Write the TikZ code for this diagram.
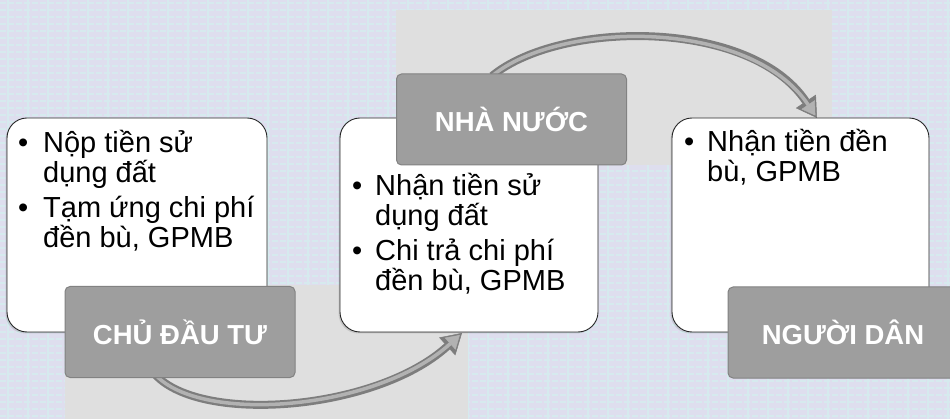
\documentclass[tikz,border=0pt]{standalone}
\usepackage{fontspec}
\setmainfont{Liberation Sans}
\usetikzlibrary{arrows.meta,shadows}
\definecolor{bgpurple}{RGB}{222,222,238}
\definecolor{gridcol}{RGB}{214,234,238}
\definecolor{patchgray}{RGB}{223,223,223}
\definecolor{labelgray}{RGB}{158,158,158}
\definecolor{labeledge}{RGB}{130,130,130}
\definecolor{arrowdark}{RGB}{125,125,125}
\definecolor{arrowlight}{RGB}{178,178,178}
\tikzset{
  infobox/.style={fill=white, draw=black!85, line width=0.9pt, rounded corners=20pt,
    minimum height=214pt, inner sep=0pt,
    drop shadow={shadow xshift=-1.5pt, shadow yshift=-1.5pt, opacity=0.2, fill=black!60}},
  labelbox/.style={fill=labelgray, draw=labeledge, line width=1pt, rounded corners=5pt,
    text=white, font=\bfseries\fontsize{27.5}{30}\selectfont, inner sep=0pt,
    minimum width=230pt, minimum height=91pt},
  itemtext/.style={anchor=base west, inner sep=0pt},
  arrowout/.style={draw=arrowdark, line width=8pt,
    -{Triangle[width=24pt,length=20pt,line width=0.5pt]}},
  arrowin/.style={draw=arrowlight, line width=3.5pt, shorten >=3pt,
    -{Triangle[width=16pt,length=13pt,line width=0.5pt]}},
}
\newcommand{\itemfont}{\fontsize{29}{30}\selectfont}
\begin{document}
\begin{tikzpicture}[x=1pt,y=-1pt]
\useasboundingbox (0,0) rectangle (950,419);
\clip (0,0) rectangle (950,419);
% background with grid texture
\fill[bgpurple] (0,0) rectangle (950,419);
\foreach \yy in {3,10,...,419}
  \draw[gridcol, line width=1.2pt, dash pattern=on 6pt off 2pt] (0,\yy) -- (950,\yy);
\foreach \xx in {8,28,...,948}
  \draw[gridcol, line width=1.6pt] (\xx,0) -- (\xx,419);
% grey patches behind arrows
\fill[patchgray] (65,285) rectangle (468,419);
\fill[patchgray] (396,10) rectangle (832,165);
% arrows
\coordinate (a1s) at (153,372);
\coordinate (a2s) at (492,76);
\draw[arrowout] (a1s) .. controls (195,425) and (375,412) .. (462,333);
\draw[arrowin]  (a1s) .. controls (195,425) and (375,412) .. (462,333);
\draw[arrowout] (a2s) .. controls (560,20) and (750,18) .. (817,118);
\draw[arrowin]  (a2s) .. controls (560,20) and (750,18) .. (817,118);
% white boxes
\node[infobox, minimum width=260pt] (b1) at (137,225) {};
\node[infobox, minimum width=258pt] (b2) at (469,225) {};
\node[infobox, minimum width=257pt] (b3) at (800.5,225) {};
% box texts
\node[itemtext] (t1) at (18,153) {\begin{minipage}[t]{245pt}\raggedright\itemfont
\makebox[25pt][l]{•}Nộp tiền sử\\
\hspace*{25pt}dụng đất\\[5pt]
\makebox[25pt][l]{•}Tạm ứng chi phí\\
\hspace*{25pt}đền bù, GPMB\end{minipage}};
\node[itemtext] (t2) at (352,196) {\begin{minipage}[t]{240pt}\raggedright\itemfont
\makebox[23pt][l]{•}Nhận tiền sử\\
\hspace*{23pt}dụng đất\\[5pt]
\makebox[23pt][l]{•}Chi trả chi phí\\
\hspace*{23pt}đền bù, GPMB\end{minipage}};
\node[itemtext] (t3) at (684,152) {\begin{minipage}[t]{240pt}\raggedright\itemfont
\makebox[23pt][l]{•}Nhận tiền đền\\
\hspace*{23pt}bù, GPMB\end{minipage}};
% labels
\node[labelbox] (l1) at (180,332) {CHỦ ĐẦU TƯ};
\node[labelbox] (l2) at (511.5,119.5) {NHÀ NƯỚC};
\node[labelbox] (l3) at (843,332.5) {NGƯỜI DÂN};
\end{tikzpicture}
\end{document}
